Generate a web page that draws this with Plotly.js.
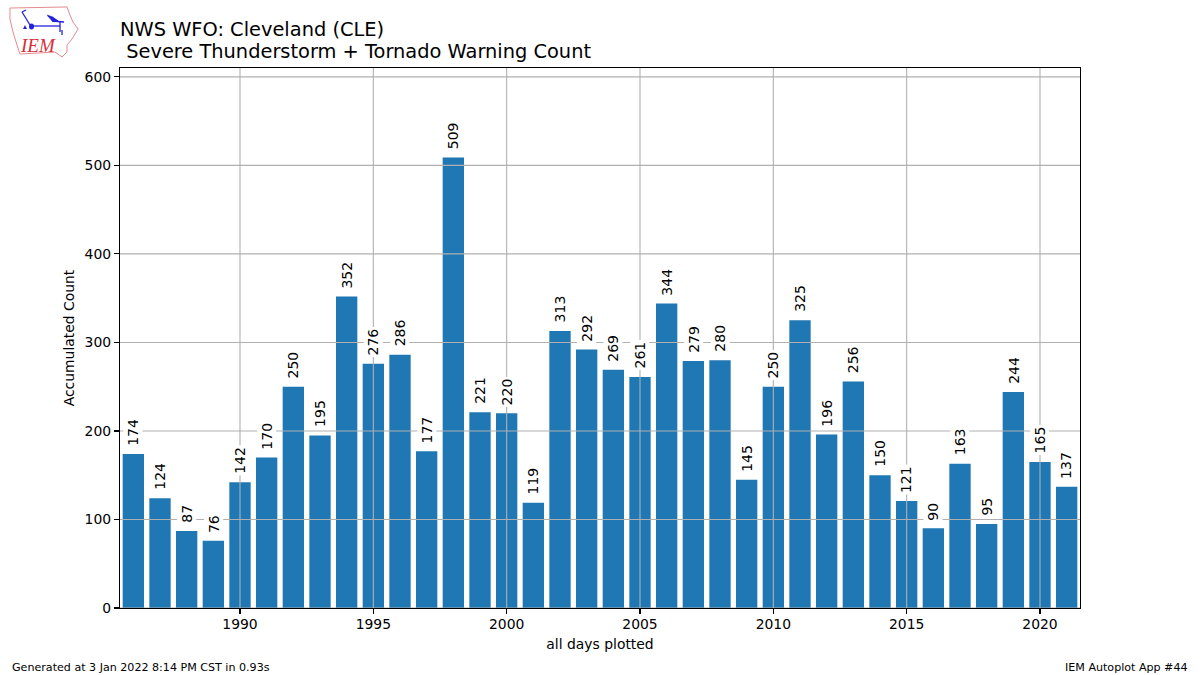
<!DOCTYPE html>
<html><head><meta charset="utf-8">
<script src="https://cdn.plot.ly/plotly-3.0.1.min.js"></script>
<style>html,body{margin:0;padding:0;background:#fff}#c{width:1200px;height:675px}</style>
</head><body><div id="c"></div>
<script>
const years=[1986,1987,1988,1989,1990,1991,1992,1993,1994,1995,1996,1997,1998,1999,2000,2001,2002,2003,2004,2005,2006,2007,2008,2009,2010,2011,2012,2013,2014,2015,2016,2017,2018,2019,2020,2021];
const counts=[174,124,87,76,142,170,250,195,352,276,286,177,509,221,220,119,313,292,269,261,344,279,280,145,250,325,196,256,150,121,90,163,95,244,165,137];
const xTicks=[1990,1995,2000,2005,2010,2015,2020];
const yTicks=[0,100,200,300,400,500,600];
const titleLine1='NWS WFO: Cleveland (CLE)';
const titleLine2='&nbsp;Severe Thunderstorm + Tornado Warning Count';
const xTitle='all days plotted', yTitle='Accumulated Count';
const footLeft='Generated at 3 Jan 2022 8:14 PM CST in 0.93s', footRight='IEM Autoplot App #44';
const xRange=[1985.5,2021.5], yRange=[0,610];
const W=1200,H=675,L=120,R=1080,T=68,B=608;
const FONT='"DejaVu Sans", sans-serif';
const px=v=>(v-L)/(R-L), py=v=>(B-v)/(B-T);
const gridLine={color:'#b0b0b0',width:1.1};
const shapes=[];
xTicks.forEach(v=>shapes.push({type:'line',layer:'above',xref:'x',yref:'paper',x0:v,x1:v,y0:0,y1:1,line:gridLine}));
yTicks.forEach(v=>shapes.push({type:'line',layer:'above',xref:'paper',yref:'y',x0:0,x1:1,y0:v,y1:v,line:gridLine}));
const annotations=years.map((y,i)=>({x:y,y:counts[i],xref:'x',yref:'y',text:String(counts[i]),showarrow:false,textangle:-90,xanchor:'center',yanchor:'bottom',yshift:6,bgcolor:'#fff',borderpad:1,font:{family:FONT,size:14,color:'#000'}}));
annotations.push({xref:'paper',yref:'paper',x:px(118),y:py(51),text:titleLine2,showarrow:false,xanchor:'left',yanchor:'middle',font:{family:FONT,size:19.4,color:'#000'}});
annotations.push({xref:'paper',yref:'paper',x:px(10),y:py(667),text:footLeft,showarrow:false,xanchor:'left',yanchor:'middle',font:{family:FONT,size:11.1,color:'#000'}});
annotations.push({xref:'paper',yref:'paper',x:px(1190),y:py(667),text:footRight,showarrow:false,xanchor:'right',yanchor:'middle',font:{family:FONT,size:11.1,color:'#000'}});
annotations.push({xref:'paper',yref:'paper',x:px(37.5),y:py(45),text:'<i>IEM</i>',showarrow:false,xanchor:'center',yanchor:'middle',font:{family:'"Liberation Serif", serif',size:19,color:'#d62f3a'}});
const P=(x,y)=>px(x).toFixed(4)+','+py(y).toFixed(4);
const poly=a=>'M'+a.map(p=>P(p[0],p[1])).join(' L')+' Z';
const logoOutline=[[10,8],[67,7],[70,15],[73,22],[78,29],[72,39],[67,45],[67,52],[62,57],[55,52],[20,54],[17,45],[13,32],[10,19]];
shapes.push({type:'path',xref:'paper',yref:'paper',path:poly(logoOutline),line:{color:'#e58a90',width:1},fillcolor:'rgba(0,0,0,0)',layer:'above'});
[[[22,12],[30,25]],[[22,12],[26,10]],[[31,26],[60,26]],[[48,16],[58,21]],[[52,21],[64,22]],[[60,22],[60,32]],[[62,30],[62,35]]].forEach(s=>shapes.push({type:'line',xref:'paper',yref:'paper',x0:px(s[0][0]),y0:py(s[0][1]),x1:px(s[1][0]),y1:py(s[1][1]),line:{color:'#2222dd',width:1.3},layer:'above'}));
shapes.push({type:'path',xref:'paper',yref:'paper',path:poly([[47,15],[53,17],[58,21],[52,21]]),fillcolor:'#2222dd',line:{color:'#2222dd',width:.5},layer:'above'});
shapes.push({type:'circle',xref:'paper',yref:'paper',x0:px(29),x1:px(34),y0:py(23.5),y1:py(29.5),fillcolor:'#2222dd',line:{width:0},layer:'above'});
shapes.push({type:'path',xref:'paper',yref:'paper',path:poly([[25,25],[27,29],[23,29]]),fillcolor:'#2222dd',line:{width:0},layer:'above'});
const layout={width:W,height:H,margin:{l:L,r:W-R,t:T,b:H-B,pad:0},paper_bgcolor:'#fff',plot_bgcolor:'#fff',showlegend:false,hovermode:false,
 font:{family:FONT,size:13.9,color:'#000'},
 title:{text:titleLine1,x:0,xref:'paper',xanchor:'left',yref:'container',y:1-(29/H),yanchor:'middle',pad:{l:0},font:{family:FONT,size:19.4,color:'#000'}},
 xaxis:{range:xRange,tickmode:'array',tickvals:xTicks,ticktext:xTicks.map(String),showgrid:false,zeroline:false,showline:true,mirror:true,linecolor:'#000',linewidth:1.1,ticks:'outside',ticklen:5,tickwidth:1.1,tickcolor:'#000',ticklabelstandoff:-2,tickfont:{family:FONT,size:13.9},title:{text:xTitle,font:{family:FONT,size:13.9},standoff:8},automargin:false},
 yaxis:{range:yRange,tickmode:'array',tickvals:yTicks,ticktext:yTicks.map(String),showgrid:false,zeroline:false,showline:true,mirror:true,linecolor:'#000',linewidth:1.1,ticks:'outside',ticklen:5,tickwidth:1.1,tickcolor:'#000',tickfont:{family:FONT,size:13.9},title:{text:yTitle,font:{family:FONT,size:13.9},standoff:6},automargin:false},
 shapes,annotations};
Plotly.newPlot('c',[{type:'bar',x:years,y:counts,width:0.8,marker:{color:'#1f77b4',line:{width:0}},hoverinfo:'skip'}],layout,{displayModeBar:false,staticPlot:true});
</script></body></html>
